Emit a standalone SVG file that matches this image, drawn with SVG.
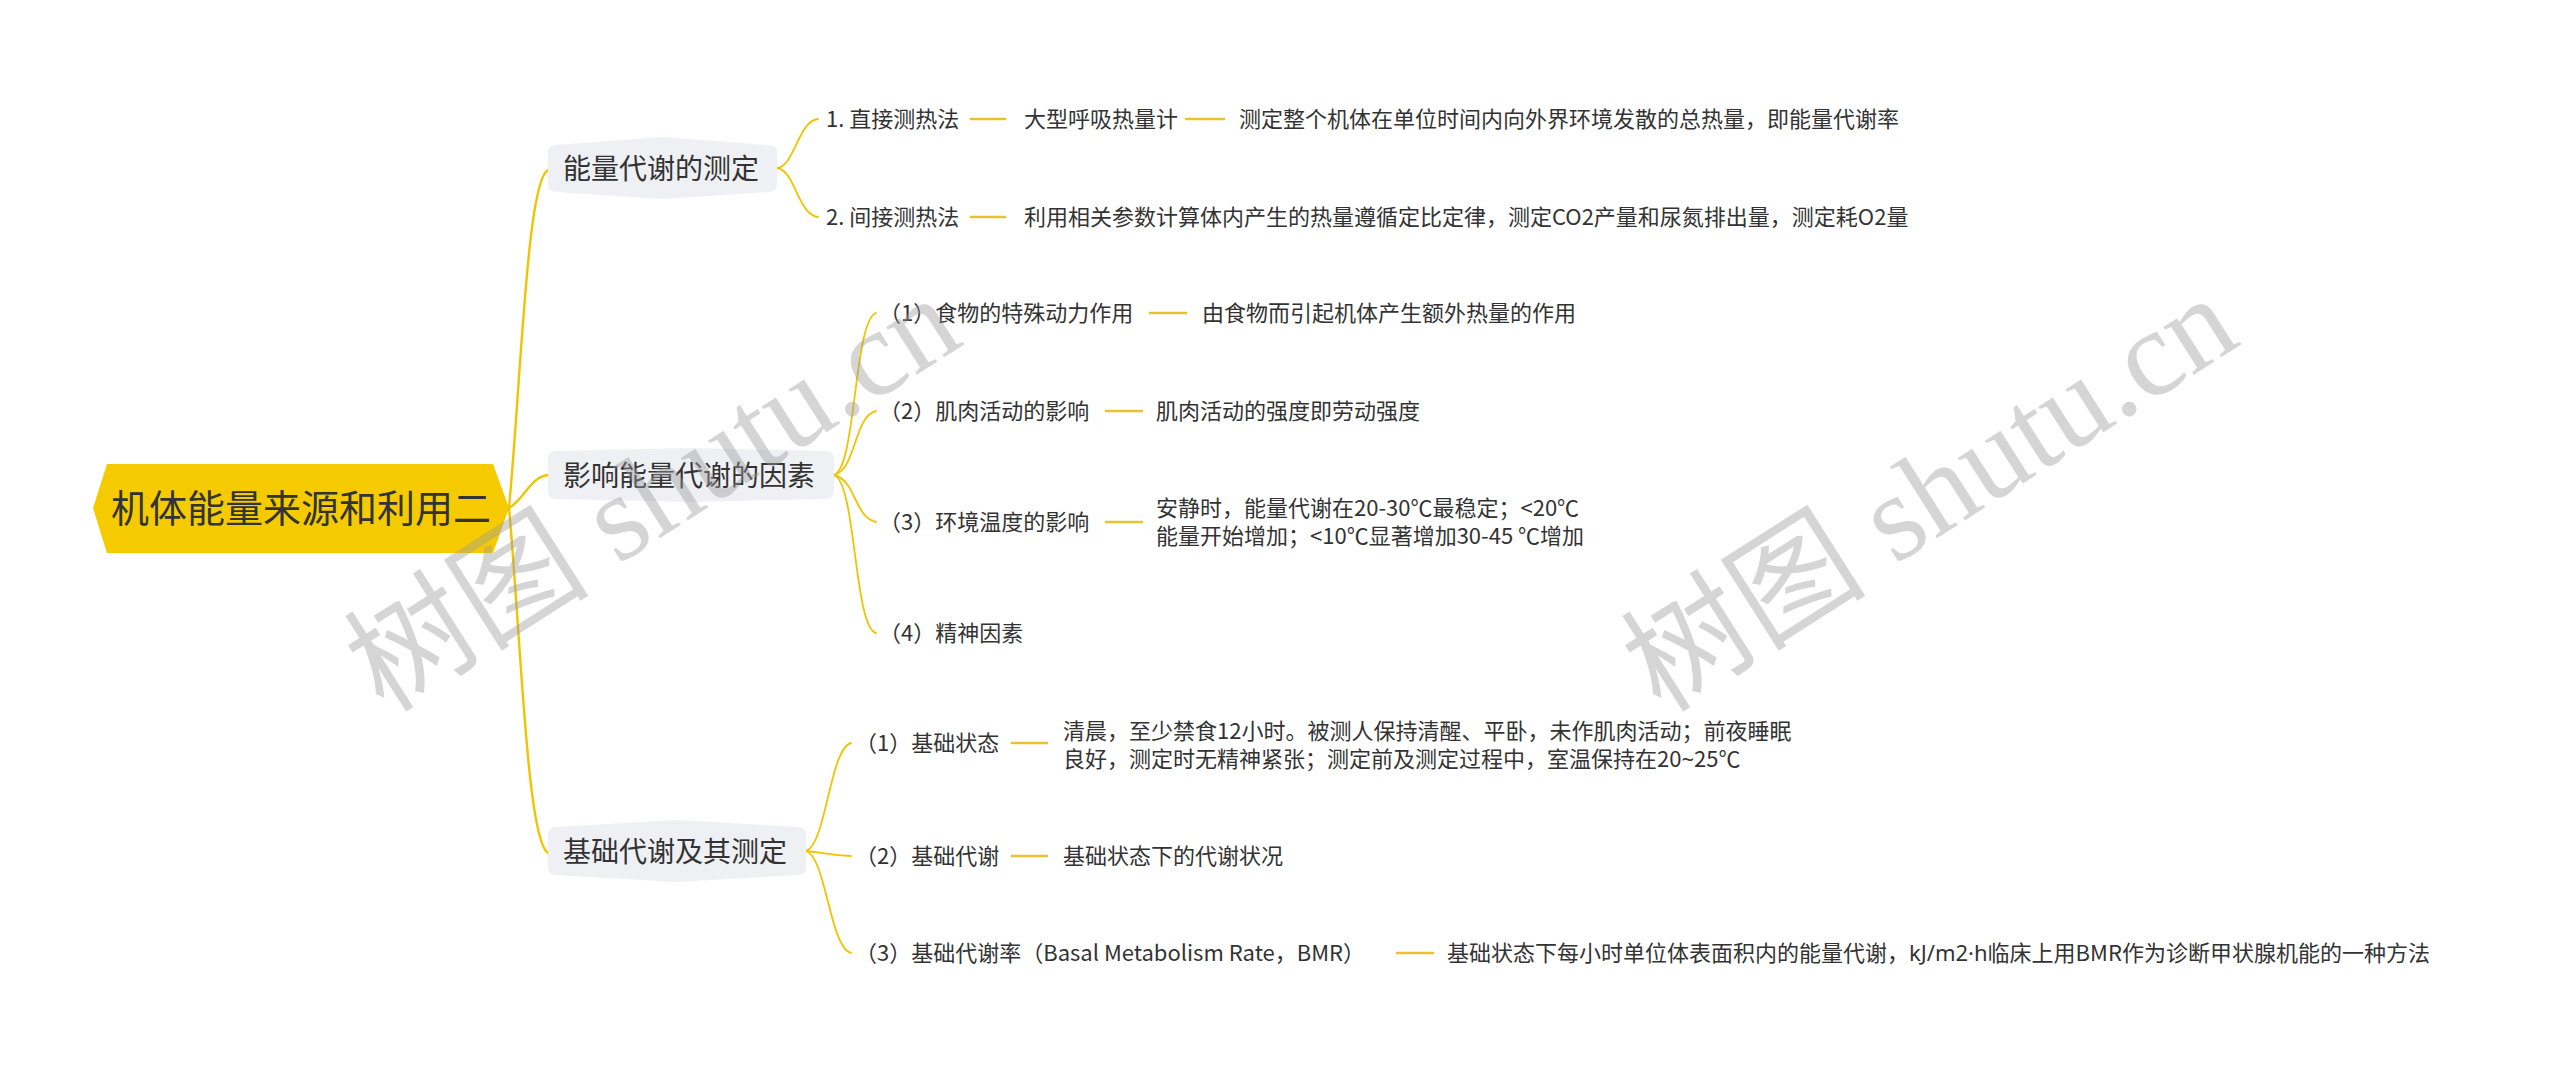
<svg xmlns="http://www.w3.org/2000/svg" width="2560" height="1072" viewBox="0 0 2560 1072">
<style>
.t{font-family:"Noto Sans CJK SC","Noto Sans",sans-serif;fill:#333333}
.s{font-size:22px}
.b{font-size:28px}
.r{font-size:38px}
.lat{font-family:"Noto Sans","Noto Sans CJK SC",sans-serif}
.curve{fill:none;stroke:#EFC400;stroke-width:1.8;stroke-linecap:round}
.main{fill:none;stroke:#EFC400;stroke-width:2.4;stroke-linecap:round}
.dash{stroke:#EAC12E;stroke-width:2.6}
.box{fill:#EEF0F3}
.wm{font-family:"Liberation Serif","Noto Sans CJK SC",serif;font-size:123px;fill:#9a9a9a;fill-opacity:0.42}
</style>
<rect width="2560" height="1072" fill="#ffffff"/>
<g id="connectors">
<path class="main" d="M509,508 C521,380 527,180 548,170"/>
<path class="main" d="M509,508 C524,500 530,477 548,475"/>
<path class="main" d="M509,508 C521,640 527,840 548,853"/>
<path class="curve" d="M777,168 C795,166 798,121 818,119"/>
<path class="curve" d="M777,168 C795,170 798,215 818,217"/>
<path class="curve" d="M834,475 C856,468 854,320 876,313"/>
<path class="curve" d="M834,475 C856,470 854,416 876,411"/>
<path class="curve" d="M834,475 C856,480 854,517 876,522"/>
<path class="curve" d="M834,475 C856,482 854,628 876,633"/>
<path class="curve" d="M806,851 C826,845 830,748 851,743"/>
<path class="curve" d="M806,851 C826,853 830,855 851,856"/>
<path class="curve" d="M806,851 C826,857 830,948 851,953"/>
<line class="dash" x1="970" y1="119" x2="1006" y2="119"/>
<line class="dash" x1="1185" y1="119" x2="1225" y2="119"/>
<line class="dash" x1="970" y1="217" x2="1006" y2="217"/>
<line class="dash" x1="1149" y1="313" x2="1187" y2="313"/>
<line class="dash" x1="1105" y1="411" x2="1143" y2="411"/>
<line class="dash" x1="1105" y1="522" x2="1143" y2="522"/>
<line class="dash" x1="1011" y1="743" x2="1048" y2="743"/>
<line class="dash" x1="1011" y1="856" x2="1048" y2="856"/>
<line class="dash" x1="1396" y1="953" x2="1434" y2="953"/>
</g>
<g id="root">
<polygon points="93,508 107,464 493,464 509,508 493,553 107,553" fill="#F5CB00"/>
<text class="t r" x="301" y="522" text-anchor="middle">机体能量来源和利用二</text>
</g>
<g id="b1">
<path class="box" d="M556,145 L662,137 L768,145 Q777,145 777,153 L777,184 Q777,192 768,192 L662,199 L556,192 Q548,192 548,184 L548,153 Q548,145 556,145 Z"/>
<text class="t b" x="563" y="178.6">能量代谢的测定</text>
</g>
<g id="b1c1"><text class="t s" x="826" y="127.4">1. 直接测热法</text></g>
<g id="b1c1a"><text class="t s" x="1024" y="127.4">大型呼吸热量计</text></g>
<g id="b1c1b"><text class="t s" x="1239" y="127.4">测定整个机体在单位时间内向外界环境发散的总热量，即能量代谢率</text></g>
<g id="b1c2"><text class="t s" x="826" y="225.4">2. 间接测热法</text></g>
<g id="b1c2a"><text class="t s" x="1024" y="225.4">利用相关参数计算体内产生的热量遵循定比定律，测定CO2产量和尿氮排出量，测定耗O2量</text></g>
<g id="b2">
<path class="box" d="M556,451 L690,448 L825,451 Q834,451 834,459 L834,491 Q834,499 825,499 L690,502 L556,499 Q548,499 548,491 L548,459 Q548,451 556,451 Z"/>
<text class="t b" x="563" y="485.6">影响能量代谢的因素</text>
</g>
<g id="b2c1"><text class="t s" x="879" y="321.4">（1）食物的特殊动力作用</text></g>
<g id="b2c1a"><text class="t s" x="1202" y="321.4">由食物而引起机体产生额外热量的作用</text></g>
<g id="b2c2"><text class="t s" x="879" y="419.4">（2）肌肉活动的影响</text></g>
<g id="b2c2a"><text class="t s" x="1156" y="419.4">肌肉活动的强度即劳动强度</text></g>
<g id="b2c3"><text class="t s" x="879" y="530.4">（3）环境温度的影响</text></g>
<g id="b2c3a"><text class="t s" x="1156" y="516.4">安静时，能量代谢在20-30℃最稳定；&lt;20℃</text><text class="t s" x="1156" y="544.4">能量开始增加；&lt;10℃显著增加30-45 ℃增加</text></g>
<g id="b2c4"><text class="t s" x="879" y="641.4">（4）精神因素</text></g>
<g id="b3">
<path class="box" d="M556,827 L676,820 L797,827 Q806,827 806,835 L806,867 Q806,875 797,875 L676,882 L556,875 Q548,875 548,867 L548,835 Q548,827 556,827 Z"/>
<text class="t b" x="563" y="861.6">基础代谢及其测定</text>
</g>
<g id="b3c1"><text class="t s" x="855" y="751.4">（1）基础状态</text></g>
<g id="b3c1a"><text class="t s" x="1063" y="739.4">清晨，至少禁食12小时。被测人保持清醒、平卧，未作肌肉活动；前夜睡眠</text><text class="t s" x="1063" y="767.4">良好，测定时无精神紧张；测定前及测定过程中，室温保持在20<tspan class="lat">~</tspan>25℃</text></g>
<g id="b3c2"><text class="t s" x="855" y="864.4">（2）基础代谢</text></g>
<g id="b3c2a"><text class="t s" x="1063" y="864.4">基础状态下的代谢状况</text></g>
<g id="b3c3"><text class="t s" x="855" y="961.4">（3）基础代谢率（Basal Metabolism Rate，BMR）</text></g>
<g id="b3c3a"><text class="t s" x="1447" y="961.4">基础状态下每小时单位体表面积内的能量代谢，<tspan class="lat">kJ/m2·h</tspan>临床上用BMR作为诊断甲状腺机能的一种方法</text></g>
<g id="watermark">
<text class="wm" x="384" y="714" transform="rotate(-32.5 384 714)">树图 shutu.cn</text>
<text class="wm" x="1661" y="714" transform="rotate(-32.5 1661 714)">树图 shutu.cn</text>
</g>
</svg>
